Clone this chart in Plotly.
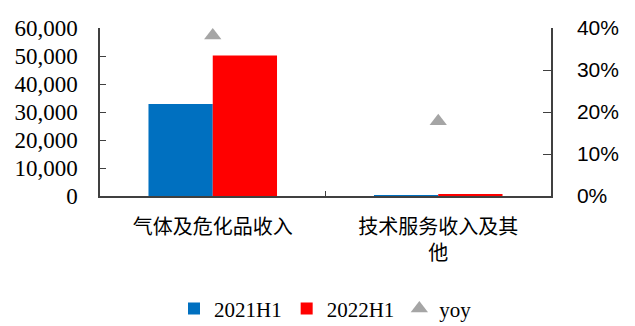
import plotly.graph_objects as go

categories = ["气体及危化品收入", "技术服务收入及其<br>他"]
rev_2021h1 = [32900, 250]
rev_2022h1 = [50200, 400]
yoy = [0.382, 0.178]

fig = go.Figure()
fig.add_trace(go.Bar(x=categories, y=rev_2021h1, name="2021H1", marker_color="#0070C0",
                     marker_line_width=0))
fig.add_trace(go.Bar(x=categories, y=rev_2022h1, name="2022H1", marker_color="#FF0000",
                     marker_line_width=0))
fig.add_trace(go.Scatter(x=categories, y=yoy, name="yoy", mode="markers", yaxis="y2",
                         marker=dict(symbol="triangle-up", size=15, color="#A5A5A5")))

fig.update_layout(
    width=635, height=326,
    margin=dict(l=100, r=84, t=28, b=130, autoexpand=False),
    plot_bgcolor="white", paper_bgcolor="white",
    barmode="group", bargap=0.43, bargroupgap=0,
    showlegend=True,
    legend=dict(orientation="h", x=0.5, xanchor="center", y=-0.55, yanchor="top",
                font=dict(family="Liberation Serif", size=21, color="black"),
                itemwidth=30, tracegroupgap=0),
    xaxis=dict(showline=True, linecolor="#404040", linewidth=1.5, ticks="inside",
               tickson="boundaries", ticklen=5, tickcolor="#404040", automargin=False,
               ticklabelstandoff=12,
               tickfont=dict(family="Noto Sans CJK SC", size=20, color="black"),
               showgrid=False),
    yaxis=dict(range=[0, 60000], dtick=10000, tickformat=",", showgrid=False,
               showline=True, linecolor="#404040", linewidth=1.5, ticks="inside",
               ticklen=6, tickcolor="#404040", automargin=False, ticklabelstandoff=16,
               tickfont=dict(family="Liberation Serif", size=23, color="black")),
    yaxis2=dict(range=[0, 0.4], dtick=0.1, tickformat=".0%", overlaying="y", side="right",
                showgrid=False, showline=True, linecolor="#404040", linewidth=1.5,
                ticks="inside", ticklen=8, tickcolor="#404040", zeroline=False,
                automargin=False, ticklabelstandoff=20,
                tickfont=dict(family="Liberation Sans", size=21, color="black")),
)

fig.write_html("out.html")
